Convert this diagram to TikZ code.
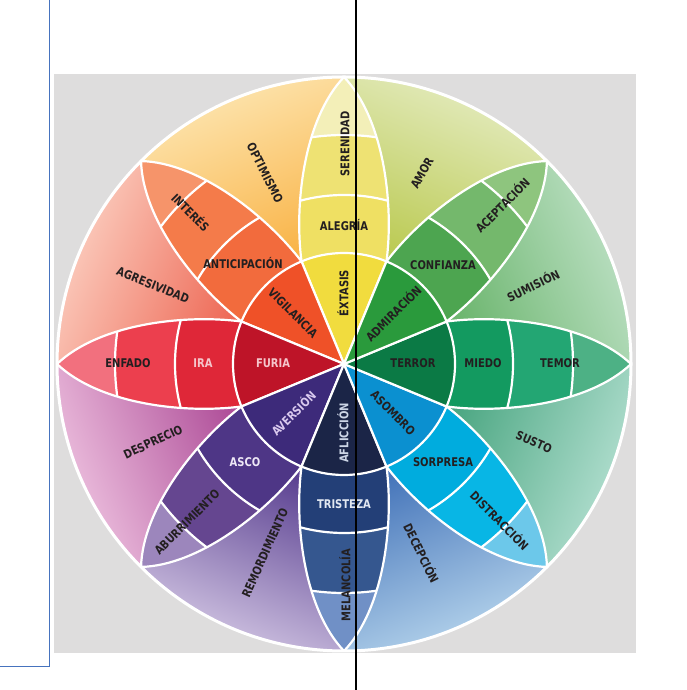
\documentclass[tikz,border=0pt]{standalone}
\usepackage{fontspec}
\newfontfamily\labfont{DejaVu Sans}[FakeStretch=0.83]
% petal colours (inner -> tip)
\definecolor{joyA}{HTML}{F1DC3E}\definecolor{joyB}{HTML}{EFE063}\definecolor{joyC}{HTML}{EEE273}\definecolor{joyD}{HTML}{F3EFB8}
\definecolor{antA}{HTML}{EF5128}\definecolor{antB}{HTML}{F26B3D}\definecolor{antC}{HTML}{F47B4A}\definecolor{antD}{HTML}{F6946A}
\definecolor{angA}{HTML}{BE1428}\definecolor{angB}{HTML}{DF2738}\definecolor{angC}{HTML}{EC3F4E}\definecolor{angD}{HTML}{F2707E}
\definecolor{disA}{HTML}{3D2A7A}\definecolor{disB}{HTML}{4E3686}\definecolor{disC}{HTML}{654690}\definecolor{disD}{HTML}{9C86BC}
\definecolor{sadA}{HTML}{1B2547}\definecolor{sadB}{HTML}{233F77}\definecolor{sadC}{HTML}{35578F}\definecolor{sadD}{HTML}{7090C6}
\definecolor{surA}{HTML}{0B90D0}\definecolor{surB}{HTML}{00ACDE}\definecolor{surC}{HTML}{08B6E5}\definecolor{surD}{HTML}{6CC8EA}
\definecolor{feaA}{HTML}{0B7A45}\definecolor{feaB}{HTML}{139A60}\definecolor{feaC}{HTML}{23A673}\definecolor{feaD}{HTML}{4DB185}
\definecolor{truA}{HTML}{2A9A3C}\definecolor{truB}{HTML}{4DA550}\definecolor{truC}{HTML}{74B86C}\definecolor{truD}{HTML}{8EC57E}
% dyad colours (dark, light)
\definecolor{optD}{HTML}{F9B54A}\definecolor{optL}{HTML}{FDE7B4}
\definecolor{amoD}{HTML}{BCCB55}\definecolor{amoL}{HTML}{E5ECC2}
\definecolor{sumD}{HTML}{6DB66F}\definecolor{sumL}{HTML}{C0E2C8}
\definecolor{susD}{HTML}{4EA884}\definecolor{susL}{HTML}{B8E2D4}
\definecolor{decD}{HTML}{4877BB}\definecolor{decL}{HTML}{BAD8EE}
\definecolor{remD}{HTML}{5C4292}\definecolor{remL}{HTML}{D6CAE6}
\definecolor{desD}{HTML}{B0509A}\definecolor{desL}{HTML}{F0C6E2}
\definecolor{agrD}{HTML}{EE6B58}\definecolor{agrL}{HTML}{FCD2C4}
% others
\definecolor{bggrey}{HTML}{DEDDDD}
\definecolor{txtdark}{HTML}{231F20}
\definecolor{txtred}{HTML}{F5C6CC}
\definecolor{txtlav}{HTML}{D9C9EE}
\definecolor{txtlav2}{HTML}{EEE8F6}
\definecolor{txtblu}{HTML}{CCD5E6}
\definecolor{txtblu2}{HTML}{E2E8F2}
\definecolor{frameblue}{HTML}{4673BE}
\begin{document}
\begin{tikzpicture}[x=1pt,y=1pt,
  lab/.style={font=\labfont\bfseries\fontsize{12}{12}\selectfont, inner sep=0pt, text=txtdark},
  wl/.style={white, line width=2.2pt, line join=round},
  rim/.style={white, line width=3pt}]
\useasboundingbox (0,0) rectangle (687,690);
% grey background
\fill[bggrey] (54,37) rectangle (636,616);
\coordinate (O) at (344,326);
% petal construction points
\foreach \n/\a in {joy/90,ant/135,ang/180,dis/225,sad/270,sur/315,fea/0,tru/45}{
  \begin{scope}[shift={(344,326)}, rotate=\a]
    \coordinate (\n-Jp) at (102.55,42.48);
    \coordinate (\n-Jm) at (102.55,-42.48);
    \coordinate (\n-T) at (287,0);
    \coordinate (\n-p1) at (160,50);
    \coordinate (\n-p2) at (245,40);
    \coordinate (\n-m1) at (160,-50);
    \coordinate (\n-m2) at (245,-40);
  \end{scope}
}
% dyad regions
\foreach \A/\B/\s/\e/\sa/\dk/\lt in {
  joy/ant/90/135/22.5/optD/optL,
  tru/joy/45/90/-22.5/amoD/amoL,
  fea/tru/0/45/-67.5/sumD/sumL,
  sur/fea/315/360/-112.5/susD/susL,
  sad/sur/270/315/-157.5/decD/decL,
  dis/sad/225/270/157.5/remD/remL,
  ang/dis/180/225/112.5/desD/desL,
  ant/ang/135/180/67.5/agrD/agrL}{
  \shade[top color=\lt, bottom color=\dk, shading angle=\sa]
    (\A-Jp) .. controls (\A-p1) and (\A-p2) .. (\A-T)
    arc[start angle=\s, end angle=\e, radius=287pt]
    .. controls (\B-m2) and (\B-m1) .. (\B-Jm) -- cycle;
}
% petals
\foreach \n in {joy,ant,ang,dis,sad,sur,fea,tru}{
  \begin{scope}
    \clip (O) -- (\n-Jm) .. controls (\n-m1) and (\n-m2) .. (\n-T)
      .. controls (\n-p2) and (\n-p1) .. (\n-Jp) -- cycle;
    \fill[\n D] (O) circle[radius=292pt];
    \fill[\n C] (O) circle[radius=229pt];
    \fill[\n B] (O) circle[radius=169pt];
    \fill[\n A] (O) circle[radius=111pt];
    \draw[wl] (O) circle[radius=229pt] (O) circle[radius=169pt];
  \end{scope}
  \draw[wl] (O) -- (\n-Jm) .. controls (\n-m1) and (\n-m2) .. (\n-T)
      .. controls (\n-p2) and (\n-p1) .. (\n-Jp) -- cycle;
}
\draw[wl] (O) circle[radius=111pt];
\draw[rim] (O) circle[radius=287pt];
% petal labels
\node[lab, rotate=90] (l-ext) at (343,397) {ÉXTASIS};
\node[lab] (l-ale) at (344,465) {ALEGRÍA};
\node[lab, rotate=90] (l-ser) at (345,546) {SERENIDAD};
\node[lab, rotate=-45] (l-vig) at (293,377) {VIGILANCIA};
\node[lab] (l-ant) at (243,427) {ANTICIPACIÓN};
\node[lab, rotate=-45] (l-int) at (191,478) {INTERÉS};
\node[lab, text=txtred] (l-fur) at (273,327) {FURIA};
\node[lab, text=txtred] (l-ira) at (203,327) {IRA};
\node[lab] (l-enf) at (128,327) {ENFADO};
\node[lab, rotate=45] (l-adm) at (393,377) {ADMIRACIÓN};
\node[lab] (l-con) at (443,425) {CONFIANZA};
\node[lab, rotate=45] (l-ace) at (502,485) {ACEPTACIÓN};
\node[lab] (l-ter) at (413,327) {TERROR};
\node[lab] (l-mie) at (483,327) {MIEDO};
\node[lab] (l-tem) at (560,327) {TEMOR};
\node[lab, rotate=-45] (l-aso) at (393,277) {ASOMBRO};
\node[lab] (l-sor) at (443,228) {SORPRESA};
\node[lab, rotate=-45] (l-dist) at (500,170) {DISTRACCIÓN};
\node[lab, rotate=90, text=txtblu] (l-afl) at (343,257) {AFLICCIÓN};
\node[lab, text=txtblu2] (l-tri) at (344,186) {TRISTEZA};
\node[lab, rotate=90] (l-mel) at (345,105) {MELANCOLÍA};
\node[lab, rotate=45, text=txtlav] (l-ave) at (293,277) {AVERSIÓN};
\node[lab, text=txtlav2] (l-asc) at (245,228) {ASCO};
\node[lab, rotate=45] (l-abu) at (187,168) {ABURRIMIENTO};
% dyad labels
\node[lab, rotate=-63] (d-opt) at (265,517) {OPTIMISMO};
\node[lab, rotate=61] (d-amo) at (422,517) {AMOR};
\node[lab, rotate=26] (d-sum) at (533,405) {SUMISIÓN};
\node[lab, rotate=-23] (d-sus) at (534,248) {SUSTO};
\node[lab, rotate=-64] (d-dec) at (422,137) {DECEPCIÓN};
\node[lab, rotate=66] (d-rem) at (265,137) {REMORDIMIENTO};
\node[lab, rotate=25] (d-des) at (153,248) {DESPRECIO};
\node[lab, rotate=-22] (d-agr) at (153,405) {AGRESIVIDAD};
% frame lines
\coordinate (vt) at (356,690);
\coordinate (vb) at (356,0);
\draw[black, line width=1.2pt] (vt) -- (vb);
\coordinate (bt) at (49,690);
\coordinate (bc) at (49,23);
\coordinate (bl) at (0,23);
\draw[frameblue, line width=1pt] (bt) -- (bc) -- (bl);
\end{tikzpicture}
\end{document}
